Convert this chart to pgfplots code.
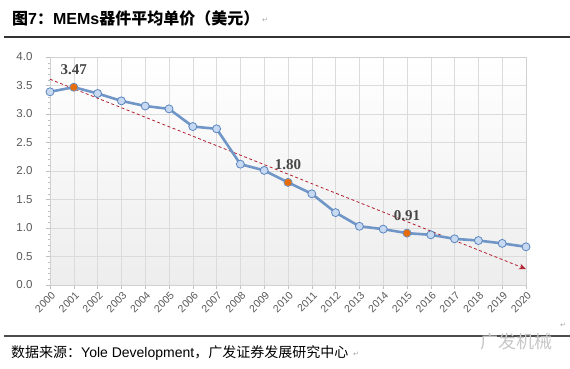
\documentclass[border=0pt]{standalone}
\usepackage{fontspec}
\setmainfont{Liberation Sans}
\newfontfamily\cjk{Noto Sans CJK SC}
\newfontfamily\serifb{Liberation Serif}
\newfontfamily\dejavu{DejaVu Sans}
\usepackage{pgfplots}
\usepackage{pgfplotstable}
\pgfplotsset{compat=1.18}
\usetikzlibrary{arrows.meta}
\definecolor{linec}{HTML}{7096C8}
\definecolor{mfill}{HTML}{C6D9F1}
\definecolor{medge}{HTML}{5B86C0}
\definecolor{orangec}{HTML}{E46C0A}
\definecolor{trendc}{HTML}{B22030}
\definecolor{tickc}{HTML}{595959}

\pgfplotstableread{
year price
2000 3.39
2001 3.47
2002 3.36
2003 3.23
2004 3.14
2005 3.09
2006 2.78
2007 2.74
2008 2.12
2009 2.01
2010 1.80
2011 1.60
2012 1.27
2013 1.03
2014 0.98
2015 0.91
2016 0.88
2017 0.81
2018 0.78
2019 0.73
2020 0.67
}\pricedata

\pgfplotstableread{
year price label
2001 3.47 3.47
2010 1.80 1.80
2015 0.91 0.91
}\hldata

\pgfplotstableread{
year price
2000 3.61
2020 0.28
}\trenddata

\begin{document}
\begin{tikzpicture}
\useasboundingbox (0pt,0pt) rectangle (570pt,369pt);
% title
\node[anchor=west,inner sep=0pt] at (12pt,351pt) {\fontsize{16}{16}\selectfont\bfseries{\cjk 图}7{\cjk ：}MEMs{\cjk 器件平均单价（美元）}};
\node[anchor=west,inner sep=0pt,text=black!35] at (262pt,349pt) {\dejavu\fontsize{7}{7}\selectfont ↵};
\draw[line width=1.3pt,draw=black!80] (4pt,332pt) -- (570pt,332pt);
% bottom rule and source
\draw[line width=1.6pt,draw=black!70] (4pt,33pt) -- (570pt,33pt);
\node[anchor=west,inner sep=0pt] at (11pt,16pt) {\fontsize{14}{14}\selectfont{\cjk 数据来源：}Yole Development{\cjk ，广发证券发展研究中心}};
\node[anchor=west,inner sep=0pt,text=black!35] at (353pt,15pt) {\dejavu\fontsize{7}{7}\selectfont ↵};
\node[anchor=west,inner sep=0pt,text=black!35] at (560pt,44pt) {\dejavu\fontsize{7}{7}\selectfont ↵};
\node[anchor=west,inner sep=0pt,text=black!22] at (480pt,27pt) {\fontsize{18}{18}\selectfont\cjk 广发机械};
\begin{axis}[
  at={(50pt,84pt)}, anchor=south west,
  scale only axis, width=476pt, height=228pt,
  xmin=2000, xmax=2020, ymin=0, ymax=4,
  xtick={2000,...,2020},
  ytick={0,0.5,...,4},
  minor y tick num=4,
  grid=major,
  major grid style={draw=black!14},
  axis line style={draw=black!18},
  tick style={draw=black!25},
  major tick length=4pt, minor tick length=2.5pt,
  tick align=outside, tick pos=left,
  axis background/.style={top color=white, bottom color=black!7},
  /pgf/number format/assume math mode=true,
  x tick label style={/pgf/number format/1000 sep={}, rotate=45, anchor=north east, font=\fontsize{10.5}{10.5}\selectfont, text=tickc, inner sep=1pt, yshift=-1pt},
  y tick label style={/pgf/number format/.cd, fixed, fixed zerofill, precision=1, /tikz/.cd, font=\fontsize{11.5}{11.5}\selectfont, text=tickc, xshift=-10pt},
  clip=false,
]
\addplot[trendc, dash pattern=on 3pt off 2.5pt, line width=0.8pt, -{Stealth[length=7pt,width=6pt]}] table[x=year,y=price] {\trenddata};
\addplot[linec, line width=2.6pt, mark=*, mark size=4pt, mark options={fill=mfill, draw=medge, line width=0.8pt, solid}] table[x=year,y=price] {\pricedata};
\addplot[only marks, mark=*, mark size=3.3pt, mark options={fill=orangec, draw=orangec},
  nodes near coords, point meta=explicit symbolic,
  every node near coord/.append style={font=\serifb\bfseries\fontsize{15}{15}\selectfont, text=black!72, yshift=9pt}]
  table[x=year,y=price,meta=label] {\hldata};
\end{axis}
\end{tikzpicture}
\end{document}
